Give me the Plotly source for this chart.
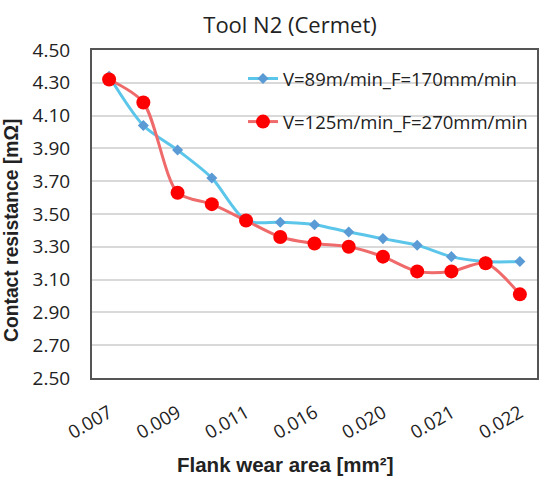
import plotly.graph_objects as go

categories = ["0.007", "0.008", "0.009", "0.010", "0.011", "0.013", "0.016",
              "0.018", "0.020", "0.020", "0.021", "0.021", "0.022"]
tick_labels = ["0.007", "0.009", "0.011", "0.016", "0.020", "0.021", "0.022"]
series_blue = [4.34, 4.04, 3.89, 3.72, 3.46, 3.45, 3.435, 3.39, 3.35, 3.31, 3.24, 3.21, 3.21]
series_red = [4.32, 4.18, 3.63, 3.56, 3.46, 3.36, 3.32, 3.30, 3.24, 3.15, 3.15, 3.20, 3.01]
name_blue = "V=89m/min_F=170mm/min"
name_red = "V=125m/min_F=270mm/min"

x_idx = list(range(len(categories)))
tick_idx = x_idx[::2]

fig = go.Figure()
fig.add_trace(go.Scatter(
    x=x_idx, y=series_blue, name=name_blue, mode="lines+markers", legendgroup="a",
    line=dict(color="#5BC6EA", width=3, shape="spline", smoothing=0.8),
    marker=dict(symbol="diamond", size=8.5, color="#5B9BD5"),
))
fig.add_trace(go.Scatter(
    x=x_idx, y=series_red, name=name_red, mode="lines+markers", legendgroup="b",
    line=dict(color="#EF6A6A", width=3, shape="spline", smoothing=0.8),
    marker=dict(symbol="circle", size=14, color="#FF0000"),
))

fig.update_layout(
    width=539, height=483,
    margin=dict(l=92, r=2, t=50, b=105),
    paper_bgcolor="white", plot_bgcolor="white",
    font=dict(family="Open Sans", color="#222222"),
    title=dict(text="Tool N2 (Cermet)", x=290/539, xanchor="center",
               y=1 - 25/483, yanchor="middle",
               font=dict(size=22, family="Open Sans", color="#222222")),
    showlegend=True,
    legend=dict(x=(243 - 92) / 445, y=(378 - 60) / 328, xanchor="left", yanchor="top",
                bgcolor="rgba(255,255,255,0)", font=dict(size=18.5, family="Open Sans"),
                traceorder="grouped", tracegroupgap=16),
    annotations=[
        dict(text="<b>Flank wear area [mm²]</b>", xref="paper", yref="paper",
             x=(285 - 92) / 445, y=-(465 - 378) / 328, xanchor="center", yanchor="middle",
             showarrow=False, font=dict(size=20.5, family="Arial", color="#222222")),
        dict(text="<b>Contact resistance [mΩ]</b>", xref="paper", yref="paper",
             x=-(92 - 12) / 445, y=(378 - 231) / 328, xanchor="center", yanchor="middle",
             textangle=-90, showarrow=False,
             font=dict(size=19.3, family="Arial", color="#222222")),
    ],
)
fig.update_yaxes(
    range=[2.5, 4.5], dtick=0.2, tick0=2.5, tickformat=".2f",
    showgrid=True, gridcolor="#D9D9D9", gridwidth=1.5,
    showline=True, linecolor="#555555", linewidth=2, mirror=True,
    ticks="outside", ticklen=16, tickcolor="rgba(0,0,0,0)",
    tickfont=dict(size=19, family="Open Sans", color="#222222"),
    zeroline=False, automargin=False,
)
fig.update_xaxes(
    range=[-0.5, 12.5], tickvals=tick_idx, ticktext=tick_labels, tickangle=-30,
    showgrid=False, zeroline=False, automargin=False,
    showline=True, linecolor="#555555", linewidth=2, mirror=True,
    ticks="outside", ticklen=15, tickcolor="rgba(0,0,0,0)",
    tickfont=dict(size=18.5, family="Open Sans", color="#222222"),
)

fig.write_html("out.html")
